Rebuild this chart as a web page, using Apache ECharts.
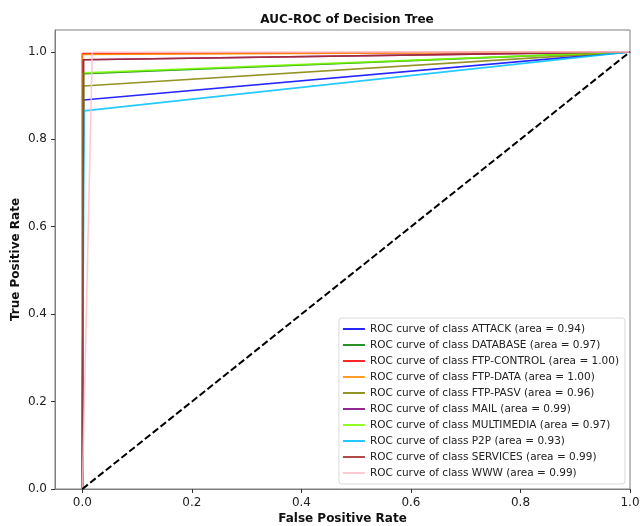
<!DOCTYPE html>
<html>
<head>
<meta charset="utf-8">
<script src="https://cdn.jsdelivr.net/npm/echarts@6/dist/echarts.min.js"></script>
<style>
  html, body { margin: 0; padding: 0; background: #fff; }
  #chart { width: 640px; height: 526px; }
</style>
</head>
<body>
<div id="chart"></div>
<script>
const classes = ['ATTACK', 'DATABASE', 'FTP-CONTROL', 'FTP-DATA', 'FTP-PASV', 'MAIL', 'MULTIMEDIA', 'P2P', 'SERVICES', 'WWW'];
const aucs = ['0.94', '0.97', '1.00', '1.00', '0.96', '0.99', '0.97', '0.93', '0.99', '0.99'];
// the single operating point of each tree ROC (fpr, tpr)
const fprPoint = [0.002, 0.002, 0.0, 0.0, 0.002, 0.002, 0.002, 0.003, 0.002, 0.018];
const tprPoint = [0.890, 0.950, 0.996, 0.994, 0.922, 0.982, 0.952, 0.865, 0.982, 0.999];
const colors = ['#0000ff', '#008000', '#ff0000', '#ff8c00', '#808000', '#800080', '#7cfc00', '#00bfff', '#a52a2a', '#ffc0cb'];
const tickValues = [0, 0.2, 0.4, 0.6, 0.8, 1.0];
const diagonal = [[0, 0], [1, 1]];

const series = classes.map(function (name, i) {
    return {
        name: 'ROC curve of class ' + name + ' (area = ' + aucs[i] + ')',
        type: 'line',
        data: [[0, 0], [fprPoint[i], tprPoint[i]], [1, 1]],
        showSymbol: false,
        symbol: 'none',
        lineStyle: { color: colors[i], width: 1.6, opacity: 0.85 },
        itemStyle: { color: colors[i], opacity: 0.85 },
        z: 2 + i
    };
});
series.push({
    name: 'chance',
    type: 'line',
    data: diagonal,
    symbol: 'none',
    lineStyle: { color: '#000', width: 2, type: [7, 3] },
    z: 20
});

const axisCommon = {
    axisLine: { onZero: false, lineStyle: { color: '#7f7f7f', width: 1 } },
    axisTick: { show: true, length: 4, lineStyle: { color: '#333' }, customValues: tickValues },
    axisLabel: { color: '#222', fontSize: 12, fontFamily: 'DejaVu Sans', customValues: tickValues,
        formatter: function (v) { return v.toFixed(1); } },
    splitLine: { show: false },
    nameLocation: 'middle',
    nameMoveOverlap: false,
    nameTextStyle: { fontWeight: 'bold', fontSize: 12, color: '#111', fontFamily: 'DejaVu Sans' }
};

const chart = echarts.init(document.getElementById('chart'));
chart.setOption({
    animation: false,
    backgroundColor: '#fff',
    title: {
        text: 'AUC-ROC of Decision Tree',
        left: 342, top: 9, textAlign: 'center',
        textStyle: { fontSize: 12, fontWeight: 'bold', color: '#111', fontFamily: 'DejaVu Sans' }
    },
    grid: {
        left: 55, right: 10, top: 30, bottom: 37,
        outerBoundsMode: 'none', containLabel: false,
        show: true, borderColor: '#7f7f7f', borderWidth: 1, backgroundColor: '#fff'
    },
    xAxis: Object.assign({}, axisCommon, {
        type: 'value', min: -0.05, max: 1.0,
        name: 'False Positive Rate', nameGap: 24
    }),
    yAxis: Object.assign({}, axisCommon, {
        type: 'value', min: 0, max: 1.05,
        name: 'True Positive Rate', nameGap: 33
    }),
    legend: {
        data: series.slice(0, classes.length).map(function (s) { return s.name; }),
        orient: 'vertical',
        right: 15, bottom: 42,
        padding: [5, 6, 5, 4],
        backgroundColor: '#fff',
        borderColor: '#d9d9d9', borderWidth: 1, borderRadius: 3,
        icon: 'rect', itemWidth: 22, itemHeight: 2, itemGap: 4,
        textStyle: { fontSize: 10.5, color: '#222', fontFamily: 'DejaVu Sans', lineHeight: 12 }
    },
    series: series
});
</script>
</body>
</html>
